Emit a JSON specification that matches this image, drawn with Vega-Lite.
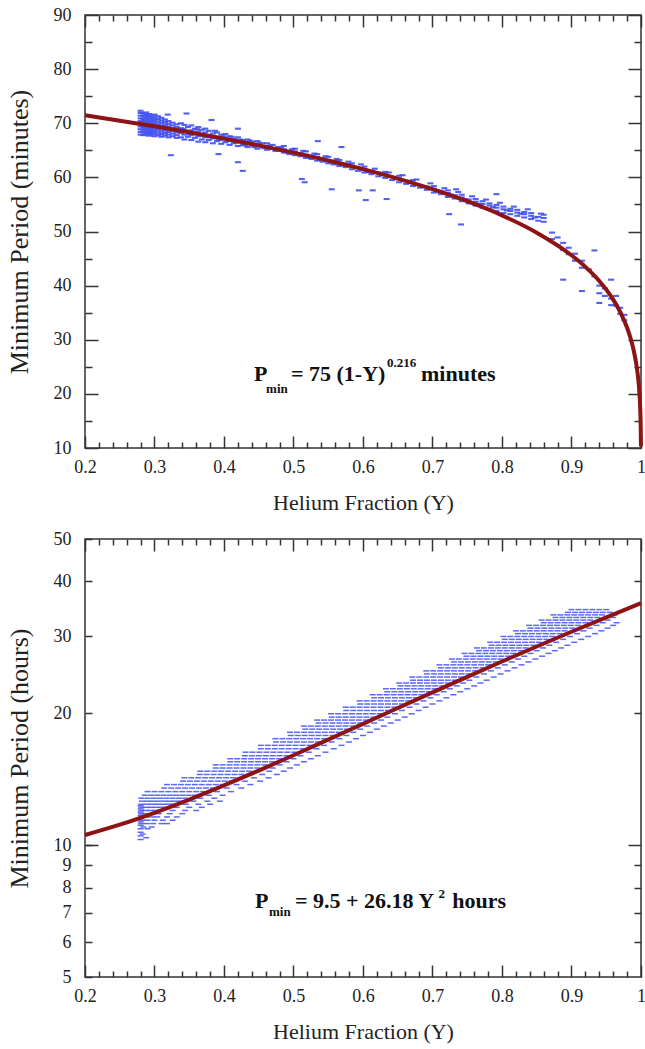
{
"$schema": "https://vega.github.io/schema/vega-lite/v6.json",
"background": "white",
"padding": 5,
"spacing": 15,
"datasets": {
"topfit": [{"x":0.2,"y":71.47},{"x":0.25,"y":70.48},{"x":0.3,"y":69.44},{"x":0.35,"y":68.34},{"x":0.4,"y":67.16},{"x":0.45,"y":65.91},{"x":0.5,"y":64.57},{"x":0.55,"y":63.12},{"x":0.6,"y":61.53},{"x":0.65,"y":59.78},{"x":0.7,"y":57.83},{"x":0.75,"y":55.59},{"x":0.8,"y":52.98},{"x":0.85,"y":49.78},{"x":0.9,"y":45.61},{"x":0.92,"y":43.46},{"x":0.94,"y":40.85},{"x":0.96,"y":37.42},{"x":0.97,"y":35.17},{"x":0.98,"y":32.22},{"x":0.985,"y":30.28},{"x":0.99,"y":27.74},{"x":0.993,"y":25.68},{"x":0.995,"y":23.88},{"x":0.998,"y":19.59},{"x":0.999,"y":16.87},{"x":0.9995,"y":14.52},{"x":0.9997,"y":13.0},{"x":0.9999,"y":10.26}],
"botfit": [{"x":0.2,"y":10.547},{"x":0.25,"y":11.136},{"x":0.3,"y":11.856},{"x":0.35,"y":12.707},{"x":0.4,"y":13.689},{"x":0.45,"y":14.801},{"x":0.5,"y":16.045},{"x":0.55,"y":17.419},{"x":0.6,"y":18.925},{"x":0.65,"y":20.561},{"x":0.7,"y":22.328},{"x":0.75,"y":24.226},{"x":0.8,"y":26.255},{"x":0.85,"y":28.415},{"x":0.9,"y":30.706},{"x":0.95,"y":33.127},{"x":1.0,"y":35.68}],
"toppts": [
{"x":0.28,"y":67.9},{"x":0.28,"y":68.4},{"x":0.28,"y":68.9},{"x":0.28,"y":69.4},{"x":0.28,"y":69.9},{"x":0.28,"y":70.4},{"x":0.28,"y":70.9},{"x":0.28,"y":71.4},{"x":0.28,"y":71.9},{"x":0.28,"y":72.3},
{"x":0.284,"y":67.8},{"x":0.284,"y":68.3},{"x":0.284,"y":68.8},{"x":0.284,"y":69.3},{"x":0.284,"y":69.8},{"x":0.284,"y":70.3},{"x":0.284,"y":70.8},{"x":0.284,"y":71.3},{"x":0.284,"y":71.8},
{"x":0.288,"y":68.0},{"x":0.288,"y":68.5},{"x":0.288,"y":69.0},{"x":0.288,"y":69.5},{"x":0.288,"y":70.0},{"x":0.288,"y":70.5},{"x":0.288,"y":71.0},{"x":0.288,"y":71.5},{"x":0.288,"y":72.0},
{"x":0.292,"y":67.7},{"x":0.292,"y":68.2},{"x":0.292,"y":68.7},{"x":0.292,"y":69.2},{"x":0.292,"y":69.7},{"x":0.292,"y":70.2},{"x":0.292,"y":70.7},{"x":0.292,"y":71.2},{"x":0.292,"y":71.7},
{"x":0.296,"y":67.9},{"x":0.296,"y":68.4},{"x":0.296,"y":68.9},{"x":0.296,"y":69.4},{"x":0.296,"y":69.9},{"x":0.296,"y":70.4},{"x":0.296,"y":70.9},{"x":0.296,"y":71.4},
{"x":0.3,"y":67.6},{"x":0.3,"y":68.1},{"x":0.3,"y":68.6},{"x":0.3,"y":69.1},{"x":0.3,"y":69.6},{"x":0.3,"y":70.1},{"x":0.3,"y":70.6},{"x":0.3,"y":71.1},{"x":0.3,"y":71.6},
{"x":0.305,"y":67.8},{"x":0.305,"y":68.3},{"x":0.305,"y":68.8},{"x":0.305,"y":69.3},{"x":0.305,"y":69.8},{"x":0.305,"y":70.3},{"x":0.305,"y":70.8},{"x":0.305,"y":71.3},
{"x":0.31,"y":67.5},{"x":0.31,"y":68.0},{"x":0.31,"y":68.5},{"x":0.31,"y":69.0},{"x":0.31,"y":69.5},{"x":0.31,"y":70.0},{"x":0.31,"y":70.5},{"x":0.31,"y":71.0},
{"x":0.315,"y":67.7},{"x":0.315,"y":68.2},{"x":0.315,"y":68.7},{"x":0.315,"y":69.2},{"x":0.315,"y":69.7},{"x":0.315,"y":70.2},{"x":0.315,"y":70.7},
{"x":0.32,"y":67.4},{"x":0.32,"y":67.9},{"x":0.32,"y":68.4},{"x":0.32,"y":68.9},{"x":0.32,"y":69.4},{"x":0.32,"y":69.9},{"x":0.32,"y":70.4},
{"x":0.326,"y":67.6},{"x":0.326,"y":68.1},{"x":0.326,"y":68.6},{"x":0.326,"y":69.1},{"x":0.326,"y":69.6},{"x":0.326,"y":70.1},
{"x":0.332,"y":67.3},{"x":0.332,"y":67.8},{"x":0.332,"y":68.3},{"x":0.332,"y":68.8},{"x":0.332,"y":69.3},{"x":0.332,"y":69.8},
{"x":0.338,"y":67.4},{"x":0.338,"y":68.2},{"x":0.338,"y":69.1},{"x":0.338,"y":70.0},
{"x":0.343,"y":67.0},{"x":0.343,"y":67.9},{"x":0.343,"y":68.8},{"x":0.343,"y":69.7},
{"x":0.348,"y":67.5},{"x":0.348,"y":68.4},{"x":0.348,"y":69.3},
{"x":0.353,"y":66.9},{"x":0.353,"y":67.8},{"x":0.353,"y":68.7},{"x":0.353,"y":69.6},
{"x":0.358,"y":67.3},{"x":0.358,"y":68.2},{"x":0.358,"y":69.0},
{"x":0.363,"y":66.6},{"x":0.363,"y":67.6},{"x":0.363,"y":68.5},{"x":0.363,"y":69.3},
{"x":0.368,"y":67.0},{"x":0.368,"y":67.9},{"x":0.368,"y":68.8},
{"x":0.373,"y":66.5},{"x":0.373,"y":67.4},{"x":0.373,"y":68.3},{"x":0.373,"y":69.0},
{"x":0.378,"y":66.9},{"x":0.378,"y":67.8},{"x":0.378,"y":68.6},
{"x":0.384,"y":66.3},{"x":0.384,"y":67.2},{"x":0.384,"y":68.1},
{"x":0.39,"y":66.7},{"x":0.39,"y":67.5},{"x":0.39,"y":68.3},
{"x":0.396,"y":66.2},{"x":0.396,"y":67.0},{"x":0.396,"y":67.9},
{"x":0.402,"y":66.5},{"x":0.402,"y":67.3},{"x":0.402,"y":68.0},
{"x":0.408,"y":66.0},{"x":0.408,"y":66.8},{"x":0.408,"y":67.6},
{"x":0.414,"y":66.3},{"x":0.414,"y":67.1},
{"x":0.42,"y":65.8},{"x":0.42,"y":66.6},{"x":0.42,"y":67.4},
{"x":0.427,"y":66.0},{"x":0.427,"y":66.9},
{"x":0.434,"y":65.6},{"x":0.434,"y":66.4},{"x":0.434,"y":67.0},
{"x":0.441,"y":65.9},{"x":0.441,"y":66.6},
{"x":0.448,"y":65.3},{"x":0.448,"y":66.0},{"x":0.448,"y":66.7},
{"x":0.455,"y":65.6},{"x":0.455,"y":66.3},
{"x":0.462,"y":65.1},{"x":0.462,"y":65.8},{"x":0.462,"y":66.3},
{"x":0.47,"y":65.3},{"x":0.47,"y":66.0},
{"x":0.478,"y":64.9},{"x":0.478,"y":65.6},
{"x":0.486,"y":64.6},{"x":0.486,"y":65.2},{"x":0.486,"y":65.8},
{"x":0.494,"y":64.3},{"x":0.494,"y":64.9},
{"x":0.502,"y":64.1},{"x":0.502,"y":64.8},{"x":0.502,"y":65.3},
{"x":0.51,"y":63.9},{"x":0.51,"y":64.5},
{"x":0.518,"y":63.6},{"x":0.518,"y":64.2},{"x":0.518,"y":64.8},
{"x":0.526,"y":63.4},{"x":0.526,"y":64.0},
{"x":0.534,"y":63.1},{"x":0.534,"y":63.8},{"x":0.534,"y":64.3},
{"x":0.542,"y":62.9},{"x":0.542,"y":63.5},
{"x":0.55,"y":62.6},{"x":0.55,"y":63.2},{"x":0.55,"y":63.8},
{"x":0.558,"y":62.4},{"x":0.558,"y":63.0},
{"x":0.566,"y":62.1},{"x":0.566,"y":62.7},{"x":0.566,"y":63.2},
{"x":0.575,"y":61.9},{"x":0.575,"y":62.4},
{"x":0.584,"y":61.5},{"x":0.584,"y":62.1},{"x":0.584,"y":62.6},
{"x":0.593,"y":61.2},{"x":0.593,"y":61.8},
{"x":0.602,"y":60.9},{"x":0.602,"y":61.5},{"x":0.602,"y":62.0},
{"x":0.612,"y":60.6},{"x":0.612,"y":61.2},
{"x":0.622,"y":60.2},{"x":0.622,"y":60.9},
{"x":0.632,"y":59.9},{"x":0.632,"y":60.5},{"x":0.632,"y":61.0},
{"x":0.642,"y":59.5},{"x":0.642,"y":60.1},
{"x":0.652,"y":59.1},{"x":0.652,"y":59.8},{"x":0.652,"y":60.3},
{"x":0.662,"y":58.8},{"x":0.662,"y":59.4},
{"x":0.672,"y":58.4},{"x":0.672,"y":59.0},{"x":0.672,"y":59.5},
{"x":0.682,"y":58.1},{"x":0.682,"y":58.6},
{"x":0.692,"y":57.7},{"x":0.692,"y":58.3},
{"x":0.702,"y":57.2},{"x":0.702,"y":57.9},{"x":0.702,"y":58.4},
{"x":0.712,"y":56.9},{"x":0.712,"y":57.5},
{"x":0.722,"y":56.4},{"x":0.722,"y":57.1},{"x":0.722,"y":57.6},
{"x":0.732,"y":56.1},{"x":0.732,"y":56.7},
{"x":0.742,"y":55.6},{"x":0.742,"y":56.3},{"x":0.742,"y":56.8},
{"x":0.752,"y":55.2},{"x":0.752,"y":55.9},
{"x":0.762,"y":54.8},{"x":0.762,"y":55.5},{"x":0.762,"y":56.0},
{"x":0.772,"y":54.4},{"x":0.772,"y":55.1},{"x":0.772,"y":55.6},
{"x":0.782,"y":54.1},{"x":0.782,"y":54.8},{"x":0.782,"y":55.2},
{"x":0.792,"y":53.8},{"x":0.792,"y":54.4},{"x":0.792,"y":54.9},
{"x":0.802,"y":53.4},{"x":0.802,"y":54.1},{"x":0.802,"y":54.6},
{"x":0.812,"y":53.2},{"x":0.812,"y":53.8},{"x":0.812,"y":54.2},
{"x":0.822,"y":52.9},{"x":0.822,"y":53.5},{"x":0.822,"y":54.0},
{"x":0.832,"y":52.6},{"x":0.832,"y":53.2},{"x":0.832,"y":53.6},
{"x":0.842,"y":52.3},{"x":0.842,"y":52.9},{"x":0.842,"y":53.4},
{"x":0.852,"y":52.0},{"x":0.852,"y":52.7},
{"x":0.86,"y":51.8},{"x":0.86,"y":52.5},{"x":0.86,"y":53.1},
{"x":0.341,"y":68.9},{"x":0.351,"y":68.0},{"x":0.361,"y":68.9},{"x":0.371,"y":67.7},{"x":0.381,"y":67.4},{"x":0.387,"y":68.6},{"x":0.393,"y":66.9},{"x":0.399,"y":67.6},{"x":0.405,"y":66.7},{"x":0.411,"y":67.5},{"x":0.417,"y":66.4},{"x":0.423,"y":67.0},{"x":0.43,"y":65.9},{"x":0.437,"y":66.8},{"x":0.444,"y":65.6},{"x":0.451,"y":66.4},{"x":0.458,"y":65.4},{"x":0.466,"y":65.9},{"x":0.474,"y":64.9},{"x":0.482,"y":65.5},{"x":0.49,"y":64.6},{"x":0.498,"y":65.2},{"x":0.506,"y":64.3},{"x":0.514,"y":64.9},{"x":0.522,"y":63.7},{"x":0.53,"y":64.4},{"x":0.538,"y":63.3},{"x":0.546,"y":63.9},{"x":0.554,"y":62.8},{"x":0.562,"y":63.4},{"x":0.57,"y":62.3},{"x":0.579,"y":62.9},{"x":0.588,"y":61.9},{"x":0.597,"y":62.4},{"x":0.607,"y":61.0},{"x":0.617,"y":61.6},{"x":0.627,"y":60.4},{"x":0.637,"y":60.9},{"x":0.647,"y":59.7},{"x":0.657,"y":60.4},{"x":0.667,"y":59.0},{"x":0.677,"y":59.6},{"x":0.687,"y":58.4},{"x":0.697,"y":58.9},{"x":0.707,"y":57.5},{"x":0.717,"y":58.0},{"x":0.727,"y":56.8},{"x":0.737,"y":57.3},{"x":0.747,"y":56.0},{"x":0.757,"y":56.5},{"x":0.767,"y":55.1},{"x":0.777,"y":55.9},{"x":0.787,"y":54.5},{"x":0.797,"y":55.3},{"x":0.807,"y":53.9},{"x":0.817,"y":54.6},{"x":0.827,"y":53.3},{"x":0.837,"y":54.1},{"x":0.847,"y":52.6},{"x":0.856,"y":53.3},
{"x":0.872,"y":49.8},{"x":0.872,"y":48.6},
{"x":0.88,"y":48.9},{"x":0.88,"y":47.5},
{"x":0.888,"y":47.9},{"x":0.888,"y":46.6},{"x":0.888,"y":41.1},
{"x":0.896,"y":47.0},{"x":0.896,"y":45.8},
{"x":0.905,"y":45.9},{"x":0.905,"y":44.6},
{"x":0.915,"y":44.6},{"x":0.915,"y":43.3},{"x":0.915,"y":39.0},
{"x":0.925,"y":43.0},
{"x":0.933,"y":46.5},{"x":0.933,"y":41.7},
{"x":0.94,"y":40.0},{"x":0.94,"y":38.6},{"x":0.94,"y":36.8},
{"x":0.948,"y":39.5},{"x":0.948,"y":38.1},
{"x":0.957,"y":41.1},{"x":0.957,"y":37.6},{"x":0.957,"y":36.4},
{"x":0.964,"y":38.1},{"x":0.964,"y":36.3},
{"x":0.97,"y":35.9},{"x":0.97,"y":34.8},
{"x":0.976,"y":34.6},{"x":0.976,"y":33.6},
{"x":0.3235,"y":64.1},{"x":0.42,"y":62.8},{"x":0.427,"y":61.2},{"x":0.512,"y":59.7},{"x":0.516,"y":59.1},{"x":0.555,"y":57.8},{"x":0.594,"y":57.6},{"x":0.604,"y":55.8},{"x":0.614,"y":57.6},{"x":0.319,"y":71.6},{"x":0.346,"y":71.8},{"x":0.382,"y":70.6},{"x":0.42,"y":69.0},{"x":0.535,"y":66.7},{"x":0.569,"y":65.6},{"x":0.392,"y":64.3},{"x":0.634,"y":56.0},{"x":0.792,"y":56.9},{"x":0.724,"y":53.2},{"x":0.741,"y":51.3},{"x":0.734,"y":57.8}
],
"botpts": [
{"x":0.28,"y":10.3},{"x":0.28,"y":10.5},{"x":0.28,"y":10.7},{"x":0.28,"y":10.9},{"x":0.28,"y":11.1},{"x":0.28,"y":11.3},{"x":0.28,"y":11.5},{"x":0.28,"y":11.7},{"x":0.28,"y":11.9},{"x":0.28,"y":12.1},{"x":0.28,"y":12.3},
{"x":0.283,"y":10.6},{"x":0.29,"y":10.9},{"x":0.288,"y":10.4},
{"x":0.284,"y":11.0},{"x":0.296,"y":11.0},
{"x":0.281,"y":11.2},{"x":0.289,"y":11.2},{"x":0.298,"y":11.2},{"x":0.31,"y":11.2},{"x":0.318,"y":11.2},
{"x":0.282,"y":11.4},{"x":0.29,"y":11.4},{"x":0.3,"y":11.4},{"x":0.312,"y":11.4},{"x":0.326,"y":11.4},
{"x":0.281,"y":11.6},{"x":0.288,"y":11.6},{"x":0.296,"y":11.6},{"x":0.304,"y":11.6},{"x":0.318,"y":11.6},{"x":0.332,"y":11.6},
{"x":0.281,"y":11.8},{"x":0.287,"y":11.8},{"x":0.293,"y":11.8},{"x":0.306,"y":11.8},{"x":0.322,"y":11.8},{"x":0.34,"y":11.8},
{"x":0.281,"y":12.0},{"x":0.287,"y":12.0},{"x":0.294,"y":12.0},{"x":0.301,"y":12.0},{"x":0.308,"y":12.0},{"x":0.326,"y":12.0},{"x":0.344,"y":12.0},{"x":0.36,"y":12.0},
{"x":0.281,"y":12.2},{"x":0.288,"y":12.2},{"x":0.295,"y":12.2},{"x":0.302,"y":12.2},{"x":0.309,"y":12.2},{"x":0.316,"y":12.2},{"x":0.332,"y":12.2},{"x":0.35,"y":12.2},{"x":0.368,"y":12.2},
{"x":0.281,"y":12.4},{"x":0.289,"y":12.4},{"x":0.297,"y":12.4},{"x":0.305,"y":12.4},{"x":0.313,"y":12.4},{"x":0.321,"y":12.4},{"x":0.329,"y":12.4},{"x":0.345,"y":12.4},{"x":0.363,"y":12.4},{"x":0.38,"y":12.4},
{"x":0.282,"y":12.6},{"x":0.29,"y":12.6},{"x":0.298,"y":12.6},{"x":0.306,"y":12.6},{"x":0.314,"y":12.6},{"x":0.322,"y":12.6},{"x":0.33,"y":12.6},{"x":0.338,"y":12.6},{"x":0.356,"y":12.6},{"x":0.376,"y":12.6},{"x":0.394,"y":12.6},
{"x":0.281,"y":12.8},{"x":0.29,"y":12.8},{"x":0.299,"y":12.8},{"x":0.308,"y":12.8},{"x":0.317,"y":12.8},{"x":0.326,"y":12.8},{"x":0.335,"y":12.8},{"x":0.344,"y":12.8},{"x":0.366,"y":12.8},{"x":0.386,"y":12.8},
{"x":0.286,"y":13.0},{"x":0.295,"y":13.0},{"x":0.304,"y":13.0},{"x":0.313,"y":13.0},{"x":0.322,"y":13.0},{"x":0.331,"y":13.0},{"x":0.34,"y":13.0},{"x":0.349,"y":13.0},{"x":0.358,"y":13.0},{"x":0.378,"y":13.0},{"x":0.398,"y":13.0},
{"x":0.29,"y":13.25},{"x":0.3,"y":13.25},{"x":0.31,"y":13.25},{"x":0.32,"y":13.25},{"x":0.33,"y":13.25},{"x":0.34,"y":13.25},{"x":0.35,"y":13.25},{"x":0.36,"y":13.25},{"x":0.37,"y":13.25},{"x":0.39,"y":13.25},{"x":0.41,"y":13.25},
{"x":0.314,"y":13.5},{"x":0.324,"y":13.5},{"x":0.334,"y":13.5},{"x":0.344,"y":13.5},{"x":0.354,"y":13.5},{"x":0.364,"y":13.5},{"x":0.374,"y":13.5},{"x":0.384,"y":13.5},{"x":0.404,"y":13.5},{"x":0.425,"y":13.5},
{"x":0.318,"y":13.75},{"x":0.328,"y":13.75},{"x":0.338,"y":13.75},{"x":0.348,"y":13.75},{"x":0.358,"y":13.75},{"x":0.368,"y":13.75},{"x":0.378,"y":13.75},{"x":0.388,"y":13.75},{"x":0.398,"y":13.75},{"x":0.418,"y":13.75},{"x":0.438,"y":13.75},
{"x":0.341,"y":14.0},{"x":0.351,"y":14.0},{"x":0.361,"y":14.0},{"x":0.371,"y":14.0},{"x":0.381,"y":14.0},{"x":0.391,"y":14.0},{"x":0.401,"y":14.0},{"x":0.411,"y":14.0},{"x":0.43,"y":14.0},{"x":0.452,"y":14.0},
{"x":0.343,"y":14.25},{"x":0.353,"y":14.25},{"x":0.363,"y":14.25},{"x":0.373,"y":14.25},{"x":0.383,"y":14.25},{"x":0.393,"y":14.25},{"x":0.403,"y":14.25},{"x":0.413,"y":14.25},{"x":0.423,"y":14.25},{"x":0.443,"y":14.25},{"x":0.464,"y":14.25},
{"x":0.365,"y":14.5},{"x":0.375,"y":14.5},{"x":0.385,"y":14.5},{"x":0.395,"y":14.5},{"x":0.405,"y":14.5},{"x":0.415,"y":14.5},{"x":0.425,"y":14.5},{"x":0.435,"y":14.5},{"x":0.455,"y":14.5},{"x":0.476,"y":14.5},
{"x":0.366,"y":14.75},{"x":0.376,"y":14.75},{"x":0.386,"y":14.75},{"x":0.396,"y":14.75},{"x":0.406,"y":14.75},{"x":0.416,"y":14.75},{"x":0.426,"y":14.75},{"x":0.436,"y":14.75},{"x":0.446,"y":14.75},{"x":0.465,"y":14.75},{"x":0.486,"y":14.75},
{"x":0.388,"y":15.0},{"x":0.398,"y":15.0},{"x":0.408,"y":15.0},{"x":0.418,"y":15.0},{"x":0.428,"y":15.0},{"x":0.438,"y":15.0},{"x":0.448,"y":15.0},{"x":0.47,"y":15.0},{"x":0.495,"y":15.0},
{"x":0.388,"y":15.25},{"x":0.398,"y":15.25},{"x":0.408,"y":15.25},{"x":0.418,"y":15.25},{"x":0.428,"y":15.25},{"x":0.438,"y":15.25},{"x":0.448,"y":15.25},{"x":0.458,"y":15.25},{"x":0.48,"y":15.25},{"x":0.505,"y":15.25},
{"x":0.409,"y":15.5},{"x":0.419,"y":15.5},{"x":0.429,"y":15.5},{"x":0.439,"y":15.5},{"x":0.449,"y":15.5},{"x":0.459,"y":15.5},{"x":0.469,"y":15.5},{"x":0.49,"y":15.5},{"x":0.515,"y":15.5},
{"x":0.409,"y":15.75},{"x":0.419,"y":15.75},{"x":0.429,"y":15.75},{"x":0.439,"y":15.75},{"x":0.449,"y":15.75},{"x":0.459,"y":15.75},{"x":0.469,"y":15.75},{"x":0.479,"y":15.75},{"x":0.5,"y":15.75},{"x":0.525,"y":15.75},
{"x":0.43,"y":16.0},{"x":0.44,"y":16.0},{"x":0.45,"y":16.0},{"x":0.46,"y":16.0},{"x":0.47,"y":16.0},{"x":0.48,"y":16.0},{"x":0.49,"y":16.0},{"x":0.51,"y":16.0},{"x":0.535,"y":16.0},
{"x":0.431,"y":16.3},{"x":0.441,"y":16.3},{"x":0.451,"y":16.3},{"x":0.461,"y":16.3},{"x":0.471,"y":16.3},{"x":0.481,"y":16.3},{"x":0.491,"y":16.3},{"x":0.501,"y":16.3},{"x":0.522,"y":16.3},{"x":0.546,"y":16.3},
{"x":0.453,"y":16.6},{"x":0.463,"y":16.6},{"x":0.473,"y":16.6},{"x":0.483,"y":16.6},{"x":0.493,"y":16.6},{"x":0.503,"y":16.6},{"x":0.513,"y":16.6},{"x":0.533,"y":16.6},{"x":0.558,"y":16.6},
{"x":0.453,"y":16.9},{"x":0.463,"y":16.9},{"x":0.473,"y":16.9},{"x":0.483,"y":16.9},{"x":0.493,"y":16.9},{"x":0.503,"y":16.9},{"x":0.513,"y":16.9},{"x":0.523,"y":16.9},{"x":0.544,"y":16.9},{"x":0.569,"y":16.9},
{"x":0.475,"y":17.2},{"x":0.485,"y":17.2},{"x":0.495,"y":17.2},{"x":0.505,"y":17.2},{"x":0.515,"y":17.2},{"x":0.525,"y":17.2},{"x":0.535,"y":17.2},{"x":0.555,"y":17.2},{"x":0.58,"y":17.2},
{"x":0.474,"y":17.5},{"x":0.484,"y":17.5},{"x":0.494,"y":17.5},{"x":0.504,"y":17.5},{"x":0.514,"y":17.5},{"x":0.524,"y":17.5},{"x":0.534,"y":17.5},{"x":0.544,"y":17.5},{"x":0.566,"y":17.5},{"x":0.59,"y":17.5},
{"x":0.496,"y":17.8},{"x":0.506,"y":17.8},{"x":0.516,"y":17.8},{"x":0.526,"y":17.8},{"x":0.536,"y":17.8},{"x":0.546,"y":17.8},{"x":0.556,"y":17.8},{"x":0.576,"y":17.8},{"x":0.6,"y":17.8},
{"x":0.495,"y":18.1},{"x":0.505,"y":18.1},{"x":0.515,"y":18.1},{"x":0.525,"y":18.1},{"x":0.535,"y":18.1},{"x":0.545,"y":18.1},{"x":0.555,"y":18.1},{"x":0.565,"y":18.1},{"x":0.586,"y":18.1},{"x":0.61,"y":18.1},
{"x":0.517,"y":18.4},{"x":0.527,"y":18.4},{"x":0.537,"y":18.4},{"x":0.547,"y":18.4},{"x":0.557,"y":18.4},{"x":0.567,"y":18.4},{"x":0.577,"y":18.4},{"x":0.596,"y":18.4},{"x":0.62,"y":18.4},
{"x":0.515,"y":18.7},{"x":0.525,"y":18.7},{"x":0.535,"y":18.7},{"x":0.545,"y":18.7},{"x":0.555,"y":18.7},{"x":0.565,"y":18.7},{"x":0.575,"y":18.7},{"x":0.585,"y":18.7},{"x":0.606,"y":18.7},{"x":0.63,"y":18.7},
{"x":0.536,"y":19.0},{"x":0.546,"y":19.0},{"x":0.556,"y":19.0},{"x":0.566,"y":19.0},{"x":0.576,"y":19.0},{"x":0.586,"y":19.0},{"x":0.596,"y":19.0},{"x":0.616,"y":19.0},{"x":0.64,"y":19.0},
{"x":0.534,"y":19.3},{"x":0.544,"y":19.3},{"x":0.554,"y":19.3},{"x":0.564,"y":19.3},{"x":0.574,"y":19.3},{"x":0.584,"y":19.3},{"x":0.594,"y":19.3},{"x":0.604,"y":19.3},{"x":0.626,"y":19.3},{"x":0.65,"y":19.3},
{"x":0.555,"y":19.6},{"x":0.565,"y":19.6},{"x":0.575,"y":19.6},{"x":0.585,"y":19.6},{"x":0.595,"y":19.6},{"x":0.605,"y":19.6},{"x":0.615,"y":19.6},{"x":0.635,"y":19.6},{"x":0.66,"y":19.6},
{"x":0.554,"y":19.95},{"x":0.564,"y":19.95},{"x":0.574,"y":19.95},{"x":0.584,"y":19.95},{"x":0.594,"y":19.95},{"x":0.604,"y":19.95},{"x":0.614,"y":19.95},{"x":0.624,"y":19.95},{"x":0.646,"y":19.95},{"x":0.67,"y":19.95},
{"x":0.576,"y":20.3},{"x":0.586,"y":20.3},{"x":0.596,"y":20.3},{"x":0.606,"y":20.3},{"x":0.616,"y":20.3},{"x":0.626,"y":20.3},{"x":0.636,"y":20.3},{"x":0.656,"y":20.3},{"x":0.68,"y":20.3},
{"x":0.575,"y":20.65},{"x":0.585,"y":20.65},{"x":0.595,"y":20.65},{"x":0.605,"y":20.65},{"x":0.615,"y":20.65},{"x":0.625,"y":20.65},{"x":0.635,"y":20.65},{"x":0.645,"y":20.65},{"x":0.667,"y":20.65},{"x":0.69,"y":20.65},
{"x":0.596,"y":21.0},{"x":0.606,"y":21.0},{"x":0.616,"y":21.0},{"x":0.626,"y":21.0},{"x":0.636,"y":21.0},{"x":0.646,"y":21.0},{"x":0.656,"y":21.0},{"x":0.677,"y":21.0},{"x":0.7,"y":21.0},
{"x":0.595,"y":21.35},{"x":0.605,"y":21.35},{"x":0.615,"y":21.35},{"x":0.625,"y":21.35},{"x":0.635,"y":21.35},{"x":0.645,"y":21.35},{"x":0.655,"y":21.35},{"x":0.665,"y":21.35},{"x":0.687,"y":21.35},{"x":0.71,"y":21.35},
{"x":0.616,"y":21.7},{"x":0.626,"y":21.7},{"x":0.636,"y":21.7},{"x":0.646,"y":21.7},{"x":0.656,"y":21.7},{"x":0.666,"y":21.7},{"x":0.676,"y":21.7},{"x":0.697,"y":21.7},{"x":0.72,"y":21.7},
{"x":0.614,"y":22.05},{"x":0.624,"y":22.05},{"x":0.634,"y":22.05},{"x":0.644,"y":22.05},{"x":0.654,"y":22.05},{"x":0.664,"y":22.05},{"x":0.674,"y":22.05},{"x":0.684,"y":22.05},{"x":0.706,"y":22.05},{"x":0.73,"y":22.05},
{"x":0.635,"y":22.4},{"x":0.645,"y":22.4},{"x":0.655,"y":22.4},{"x":0.665,"y":22.4},{"x":0.675,"y":22.4},{"x":0.685,"y":22.4},{"x":0.695,"y":22.4},{"x":0.716,"y":22.4},{"x":0.74,"y":22.4},
{"x":0.633,"y":22.75},{"x":0.643,"y":22.75},{"x":0.653,"y":22.75},{"x":0.663,"y":22.75},{"x":0.673,"y":22.75},{"x":0.683,"y":22.75},{"x":0.693,"y":22.75},{"x":0.703,"y":22.75},{"x":0.725,"y":22.75},{"x":0.75,"y":22.75},
{"x":0.654,"y":23.1},{"x":0.664,"y":23.1},{"x":0.674,"y":23.1},{"x":0.684,"y":23.1},{"x":0.694,"y":23.1},{"x":0.704,"y":23.1},{"x":0.714,"y":23.1},{"x":0.735,"y":23.1},{"x":0.76,"y":23.1},
{"x":0.652,"y":23.45},{"x":0.662,"y":23.45},{"x":0.672,"y":23.45},{"x":0.682,"y":23.45},{"x":0.692,"y":23.45},{"x":0.702,"y":23.45},{"x":0.712,"y":23.45},{"x":0.722,"y":23.45},{"x":0.744,"y":23.45},{"x":0.769,"y":23.45},
{"x":0.672,"y":23.8},{"x":0.682,"y":23.8},{"x":0.692,"y":23.8},{"x":0.702,"y":23.8},{"x":0.712,"y":23.8},{"x":0.722,"y":23.8},{"x":0.732,"y":23.8},{"x":0.753,"y":23.8},{"x":0.778,"y":23.8},
{"x":0.671,"y":24.2},{"x":0.681,"y":24.2},{"x":0.691,"y":24.2},{"x":0.701,"y":24.2},{"x":0.711,"y":24.2},{"x":0.721,"y":24.2},{"x":0.731,"y":24.2},{"x":0.741,"y":24.2},{"x":0.763,"y":24.2},{"x":0.788,"y":24.2},
{"x":0.692,"y":24.6},{"x":0.702,"y":24.6},{"x":0.712,"y":24.6},{"x":0.722,"y":24.6},{"x":0.732,"y":24.6},{"x":0.742,"y":24.6},{"x":0.752,"y":24.6},{"x":0.774,"y":24.6},{"x":0.798,"y":24.6},
{"x":0.691,"y":25.0},{"x":0.701,"y":25.0},{"x":0.711,"y":25.0},{"x":0.721,"y":25.0},{"x":0.731,"y":25.0},{"x":0.741,"y":25.0},{"x":0.751,"y":25.0},{"x":0.761,"y":25.0},{"x":0.784,"y":25.0},{"x":0.808,"y":25.0},
{"x":0.712,"y":25.4},{"x":0.722,"y":25.4},{"x":0.732,"y":25.4},{"x":0.742,"y":25.4},{"x":0.752,"y":25.4},{"x":0.762,"y":25.4},{"x":0.772,"y":25.4},{"x":0.794,"y":25.4},{"x":0.818,"y":25.4},
{"x":0.71,"y":25.8},{"x":0.72,"y":25.8},{"x":0.73,"y":25.8},{"x":0.74,"y":25.8},{"x":0.75,"y":25.8},{"x":0.76,"y":25.8},{"x":0.77,"y":25.8},{"x":0.78,"y":25.8},{"x":0.804,"y":25.8},{"x":0.828,"y":25.8},
{"x":0.731,"y":26.2},{"x":0.741,"y":26.2},{"x":0.751,"y":26.2},{"x":0.761,"y":26.2},{"x":0.771,"y":26.2},{"x":0.781,"y":26.2},{"x":0.791,"y":26.2},{"x":0.814,"y":26.2},{"x":0.838,"y":26.2},
{"x":0.728,"y":26.6},{"x":0.738,"y":26.6},{"x":0.748,"y":26.6},{"x":0.758,"y":26.6},{"x":0.768,"y":26.6},{"x":0.778,"y":26.6},{"x":0.788,"y":26.6},{"x":0.798,"y":26.6},{"x":0.823,"y":26.6},{"x":0.848,"y":26.6},
{"x":0.749,"y":27.0},{"x":0.759,"y":27.0},{"x":0.769,"y":27.0},{"x":0.779,"y":27.0},{"x":0.789,"y":27.0},{"x":0.799,"y":27.0},{"x":0.809,"y":27.0},{"x":0.832,"y":27.0},{"x":0.858,"y":27.0},
{"x":0.746,"y":27.4},{"x":0.756,"y":27.4},{"x":0.766,"y":27.4},{"x":0.776,"y":27.4},{"x":0.786,"y":27.4},{"x":0.796,"y":27.4},{"x":0.806,"y":27.4},{"x":0.816,"y":27.4},{"x":0.841,"y":27.4},{"x":0.867,"y":27.4},
{"x":0.767,"y":27.8},{"x":0.777,"y":27.8},{"x":0.787,"y":27.8},{"x":0.797,"y":27.8},{"x":0.807,"y":27.8},{"x":0.817,"y":27.8},{"x":0.827,"y":27.8},{"x":0.85,"y":27.8},{"x":0.876,"y":27.8},
{"x":0.764,"y":28.2},{"x":0.774,"y":28.2},{"x":0.784,"y":28.2},{"x":0.794,"y":28.2},{"x":0.804,"y":28.2},{"x":0.814,"y":28.2},{"x":0.824,"y":28.2},{"x":0.834,"y":28.2},{"x":0.859,"y":28.2},{"x":0.885,"y":28.2},
{"x":0.785,"y":28.6},{"x":0.795,"y":28.6},{"x":0.805,"y":28.6},{"x":0.815,"y":28.6},{"x":0.825,"y":28.6},{"x":0.835,"y":28.6},{"x":0.845,"y":28.6},{"x":0.868,"y":28.6},{"x":0.894,"y":28.6},
{"x":0.783,"y":29.05},{"x":0.793,"y":29.05},{"x":0.803,"y":29.05},{"x":0.813,"y":29.05},{"x":0.823,"y":29.05},{"x":0.833,"y":29.05},{"x":0.843,"y":29.05},{"x":0.853,"y":29.05},{"x":0.878,"y":29.05},{"x":0.904,"y":29.05},
{"x":0.804,"y":29.5},{"x":0.814,"y":29.5},{"x":0.824,"y":29.5},{"x":0.834,"y":29.5},{"x":0.844,"y":29.5},{"x":0.854,"y":29.5},{"x":0.864,"y":29.5},{"x":0.888,"y":29.5},{"x":0.914,"y":29.5},
{"x":0.802,"y":29.95},{"x":0.812,"y":29.95},{"x":0.822,"y":29.95},{"x":0.832,"y":29.95},{"x":0.842,"y":29.95},{"x":0.852,"y":29.95},{"x":0.862,"y":29.95},{"x":0.872,"y":29.95},{"x":0.898,"y":29.95},{"x":0.924,"y":29.95},
{"x":0.823,"y":30.4},{"x":0.833,"y":30.4},{"x":0.843,"y":30.4},{"x":0.853,"y":30.4},{"x":0.863,"y":30.4},{"x":0.873,"y":30.4},{"x":0.883,"y":30.4},{"x":0.908,"y":30.4},{"x":0.934,"y":30.4},
{"x":0.82,"y":30.85},{"x":0.83,"y":30.85},{"x":0.84,"y":30.85},{"x":0.85,"y":30.85},{"x":0.86,"y":30.85},{"x":0.87,"y":30.85},{"x":0.88,"y":30.85},{"x":0.89,"y":30.85},{"x":0.917,"y":30.85},{"x":0.943,"y":30.85},
{"x":0.841,"y":31.3},{"x":0.851,"y":31.3},{"x":0.861,"y":31.3},{"x":0.871,"y":31.3},{"x":0.881,"y":31.3},{"x":0.891,"y":31.3},{"x":0.901,"y":31.3},{"x":0.926,"y":31.3},{"x":0.952,"y":31.3},
{"x":0.839,"y":31.75},{"x":0.849,"y":31.75},{"x":0.859,"y":31.75},{"x":0.869,"y":31.75},{"x":0.879,"y":31.75},{"x":0.889,"y":31.75},{"x":0.899,"y":31.75},{"x":0.909,"y":31.75},{"x":0.936,"y":31.75},{"x":0.96,"y":31.75},
{"x":0.86,"y":32.2},{"x":0.87,"y":32.2},{"x":0.88,"y":32.2},{"x":0.89,"y":32.2},{"x":0.9,"y":32.2},{"x":0.91,"y":32.2},{"x":0.92,"y":32.2},{"x":0.945,"y":32.2},{"x":0.965,"y":32.2},
{"x":0.857,"y":32.65},{"x":0.867,"y":32.65},{"x":0.877,"y":32.65},{"x":0.887,"y":32.65},{"x":0.897,"y":32.65},{"x":0.907,"y":32.65},{"x":0.917,"y":32.65},{"x":0.927,"y":32.65},{"x":0.952,"y":32.65},
{"x":0.877,"y":33.1},{"x":0.887,"y":33.1},{"x":0.897,"y":33.1},{"x":0.907,"y":33.1},{"x":0.917,"y":33.1},{"x":0.927,"y":33.1},{"x":0.937,"y":33.1},{"x":0.96,"y":33.1},
{"x":0.874,"y":33.55},{"x":0.884,"y":33.55},{"x":0.894,"y":33.55},{"x":0.904,"y":33.55},{"x":0.914,"y":33.55},{"x":0.924,"y":33.55},{"x":0.934,"y":33.55},{"x":0.944,"y":33.55},{"x":0.962,"y":33.55},
{"x":0.895,"y":34.0},{"x":0.905,"y":34.0},{"x":0.915,"y":34.0},{"x":0.925,"y":34.0},{"x":0.935,"y":34.0},{"x":0.945,"y":34.0},{"x":0.955,"y":34.0},
{"x":0.9,"y":34.5},{"x":0.91,"y":34.5},{"x":0.92,"y":34.5},{"x":0.93,"y":34.5},{"x":0.94,"y":34.5},{"x":0.95,"y":34.5}
],
"toptext": [{"t":"P","x":0.443,"y":22.4},{"t":"= 75 (1-Y)","x":0.4964,"y":22.4},{"t":"minutes","x":0.6835,"y":22.4}],
"topsub": [{"t":"min","x":0.4605,"y":22.4}],
"topsup": [{"t":"0.216","x":0.6345,"y":22.4}],
"bottext": [{"t":"P","x":0.4446,"y":7.187},{"t":"= 9.5 + 26.18 Y","x":0.5022,"y":7.187},{"t":"hours","x":0.7285,"y":7.187}],
"botsub": [{"t":"min","x":0.4647,"y":7.187}],
"botsup": [{"t":"2","x":0.7085,"y":7.187}]
},
"vconcat": [
{
"width": 556, "height": 433,
"resolve": {"axis": {"x": "independent", "y": "independent"}},
"layer": [
{"data": {"name": "toppts"},
 "mark": {"type": "point", "shape": "M-1,-0.35H1V0.35H-1Z", "filled": true, "size": 36, "color": "#3f4ff2", "opacity": 0.9},
 "encoding": {
  "x": {"field": "x", "type": "quantitative", "scale": {"domain": [0.2, 1], "nice": false, "zero": false},
        "axis": {"orient": "bottom", "values": [0.2,0.3,0.4,0.5,0.6,0.7,0.8,0.9,1], "format": "~g", "tickSize": -12, "labelPadding": 22, "labelFont": "Liberation Serif", "labelFontSize": 18, "title": "Helium Fraction (Y)", "titleFont": "Liberation Serif", "titleFontSize": 22, "titlePadding": 16}},
  "y": {"field": "y", "type": "quantitative", "scale": {"domain": [10, 90], "nice": false, "zero": false},
        "axis": {"orient": "left", "values": [10,20,30,40,50,60,70,80,90], "tickSize": -13, "labelPadding": 27, "labelFont": "Liberation Serif", "labelFontSize": 18, "title": "Minimum Period (minutes)", "titleFont": "Liberation Serif", "titleFontSize": 26, "titlePadding": 21}}
 }},
{"data": {"name": "topfit"},
 "mark": {"type": "line", "color": "#8e1414", "strokeWidth": 4, "interpolate": "monotone"},
 "encoding": {
  "x": {"field": "x", "type": "quantitative", "scale": {"domain": [0.2, 1], "nice": false, "zero": false},
        "axis": {"orient": "top", "values": [0.2,0.3,0.4,0.5,0.6,0.7,0.8,0.9,1], "tickSize": -12, "labels": false, "title": null}},
  "y": {"field": "y", "type": "quantitative", "scale": {"domain": [10, 90], "nice": false, "zero": false},
        "axis": {"orient": "right", "values": [10,20,30,40,50,60,70,80,90], "tickSize": -13, "labels": false, "title": null}}
 }},
{"data": {"name": "topfit"},
 "mark": {"type": "line", "strokeOpacity": 0},
 "encoding": {
  "x": {"field": "x", "type": "quantitative", "scale": {"domain": [0.2, 1], "nice": false, "zero": false},
        "axis": {"orient": "bottom", "values": [0.22,0.24,0.26,0.28,0.32,0.34,0.36,0.38,0.42,0.44,0.46,0.48,0.52,0.54,0.56,0.58,0.62,0.64,0.66,0.68,0.72,0.74,0.76,0.78,0.82,0.84,0.86,0.88,0.92,0.94,0.96,0.98], "tickSize": -6, "labels": false, "title": null}},
  "y": {"field": "y", "type": "quantitative", "scale": {"domain": [10, 90], "nice": false, "zero": false},
        "axis": {"orient": "left", "values": [15,25,35,45,55,65,75,85], "tickSize": -7, "labels": false, "title": null}}
 }},
{"data": {"name": "topfit"},
 "mark": {"type": "line", "strokeOpacity": 0},
 "encoding": {
  "x": {"field": "x", "type": "quantitative", "scale": {"domain": [0.2, 1], "nice": false, "zero": false},
        "axis": {"orient": "top", "values": [0.22,0.24,0.26,0.28,0.32,0.34,0.36,0.38,0.42,0.44,0.46,0.48,0.52,0.54,0.56,0.58,0.62,0.64,0.66,0.68,0.72,0.74,0.76,0.78,0.82,0.84,0.86,0.88,0.92,0.94,0.96,0.98], "tickSize": -6, "labels": false, "title": null}},
  "y": {"field": "y", "type": "quantitative", "scale": {"domain": [10, 90], "nice": false, "zero": false},
        "axis": {"orient": "right", "values": [15,25,35,45,55,65,75,85], "tickSize": -7, "labels": false, "title": null}}
 }},
{"data": {"name": "toptext"},
 "mark": {"type": "text", "font": "Liberation Serif", "fontWeight": "bold", "fontSize": 22, "align": "left", "baseline": "alphabetic", "color": "#111"},
 "encoding": {"x": {"field": "x", "type": "quantitative", "axis": null}, "y": {"field": "y", "type": "quantitative", "axis": null}, "text": {"field": "t"}}},
{"data": {"name": "topsub"},
 "mark": {"type": "text", "font": "Liberation Serif", "fontWeight": "bold", "fontSize": 13, "align": "left", "baseline": "alphabetic", "dy": 12, "color": "#111"},
 "encoding": {"x": {"field": "x", "type": "quantitative", "axis": null}, "y": {"field": "y", "type": "quantitative", "axis": null}, "text": {"field": "t"}}},
{"data": {"name": "topsup"},
 "mark": {"type": "text", "font": "Liberation Serif", "fontWeight": "bold", "fontSize": 13, "align": "left", "baseline": "alphabetic", "dy": -14, "color": "#111"},
 "encoding": {"x": {"field": "x", "type": "quantitative", "axis": null}, "y": {"field": "y", "type": "quantitative", "axis": null}, "text": {"field": "t"}}}
]
},
{
"width": 556, "height": 438,
"resolve": {"axis": {"x": "independent", "y": "independent"}},
"layer": [
{"data": {"name": "botpts"},
 "mark": {"type": "point", "shape": "M-1,-0.25H1V0.25H-1Z", "filled": true, "size": 36, "color": "#3f4ff2", "opacity": 0.85},
 "encoding": {
  "x": {"field": "x", "type": "quantitative", "scale": {"domain": [0.2, 1], "nice": false, "zero": false},
        "axis": {"orient": "bottom", "values": [0.2,0.3,0.4,0.5,0.6,0.7,0.8,0.9,1], "format": "~g", "tickSize": -12, "labelPadding": 22, "labelFont": "Liberation Serif", "labelFontSize": 18, "title": "Helium Fraction (Y)", "titleFont": "Liberation Serif", "titleFontSize": 22, "titlePadding": 16}},
  "y": {"field": "y", "type": "quantitative", "scale": {"type": "log", "domain": [5, 50], "nice": false},
        "axis": {"orient": "left", "values": [5,6,7,8,9,10,20,30,40,50], "format": "~g", "tickSize": -7, "labelPadding": 21, "labelFont": "Liberation Serif", "labelFontSize": 18, "title": "Minimum Period (hours)", "titleFont": "Liberation Serif", "titleFontSize": 26, "titlePadding": 21}}
 }},
{"data": {"name": "botfit"},
 "mark": {"type": "line", "color": "#8e1414", "strokeWidth": 4, "interpolate": "monotone"},
 "encoding": {
  "x": {"field": "x", "type": "quantitative", "scale": {"domain": [0.2, 1], "nice": false, "zero": false},
        "axis": {"orient": "top", "values": [0.2,0.3,0.4,0.5,0.6,0.7,0.8,0.9,1], "tickSize": -12, "labels": false, "title": null}},
  "y": {"field": "y", "type": "quantitative", "scale": {"type": "log", "domain": [5, 50], "nice": false},
        "axis": {"orient": "right", "values": [6,7,8,9,20,30,40], "tickSize": -7, "labels": false, "title": null}}
 }},
{"data": {"name": "botfit"},
 "mark": {"type": "line", "strokeOpacity": 0},
 "encoding": {
  "x": {"field": "x", "type": "quantitative", "scale": {"domain": [0.2, 1], "nice": false, "zero": false},
        "axis": {"orient": "bottom", "values": [0.22,0.24,0.26,0.28,0.32,0.34,0.36,0.38,0.42,0.44,0.46,0.48,0.52,0.54,0.56,0.58,0.62,0.64,0.66,0.68,0.72,0.74,0.76,0.78,0.82,0.84,0.86,0.88,0.92,0.94,0.96,0.98], "tickSize": -6, "labels": false, "title": null}},
  "y": {"field": "y", "type": "quantitative", "scale": {"type": "log", "domain": [5, 50], "nice": false},
        "axis": {"orient": "left", "values": [10], "tickSize": -13, "labels": false, "title": null}}
 }},
{"data": {"name": "botfit"},
 "mark": {"type": "line", "strokeOpacity": 0},
 "encoding": {
  "x": {"field": "x", "type": "quantitative", "scale": {"domain": [0.2, 1], "nice": false, "zero": false},
        "axis": {"orient": "top", "values": [0.22,0.24,0.26,0.28,0.32,0.34,0.36,0.38,0.42,0.44,0.46,0.48,0.52,0.54,0.56,0.58,0.62,0.64,0.66,0.68,0.72,0.74,0.76,0.78,0.82,0.84,0.86,0.88,0.92,0.94,0.96,0.98], "tickSize": -6, "labels": false, "title": null}},
  "y": {"field": "y", "type": "quantitative", "scale": {"type": "log", "domain": [5, 50], "nice": false},
        "axis": {"orient": "right", "values": [10], "tickSize": -13, "labels": false, "title": null}}
 }},
{"data": {"name": "bottext"},
 "mark": {"type": "text", "font": "Liberation Serif", "fontWeight": "bold", "fontSize": 22, "align": "left", "baseline": "alphabetic", "color": "#111"},
 "encoding": {"x": {"field": "x", "type": "quantitative", "axis": null}, "y": {"field": "y", "type": "quantitative", "axis": null}, "text": {"field": "t"}}},
{"data": {"name": "botsub"},
 "mark": {"type": "text", "font": "Liberation Serif", "fontWeight": "bold", "fontSize": 13, "align": "left", "baseline": "alphabetic", "dy": 8, "color": "#111"},
 "encoding": {"x": {"field": "x", "type": "quantitative", "axis": null}, "y": {"field": "y", "type": "quantitative", "axis": null}, "text": {"field": "t"}}},
{"data": {"name": "botsup"},
 "mark": {"type": "text", "font": "Liberation Serif", "fontWeight": "bold", "fontSize": 13, "align": "left", "baseline": "alphabetic", "dy": -10, "color": "#111"},
 "encoding": {"x": {"field": "x", "type": "quantitative", "axis": null}, "y": {"field": "y", "type": "quantitative", "axis": null}, "text": {"field": "t"}}}
]
}
],
"config": {
 "view": {"stroke": "#333", "strokeWidth": 1.5},
 "axis": {"domain": false, "grid": false, "tickColor": "#333", "tickWidth": 1.5, "labelFont": "Liberation Serif", "labelFontSize": 18, "labelColor": "#222", "titleFont": "Liberation Serif", "titleFontWeight": "normal", "titleColor": "#222", "labelFlush": false, "labelOverlap": false}
}
}
